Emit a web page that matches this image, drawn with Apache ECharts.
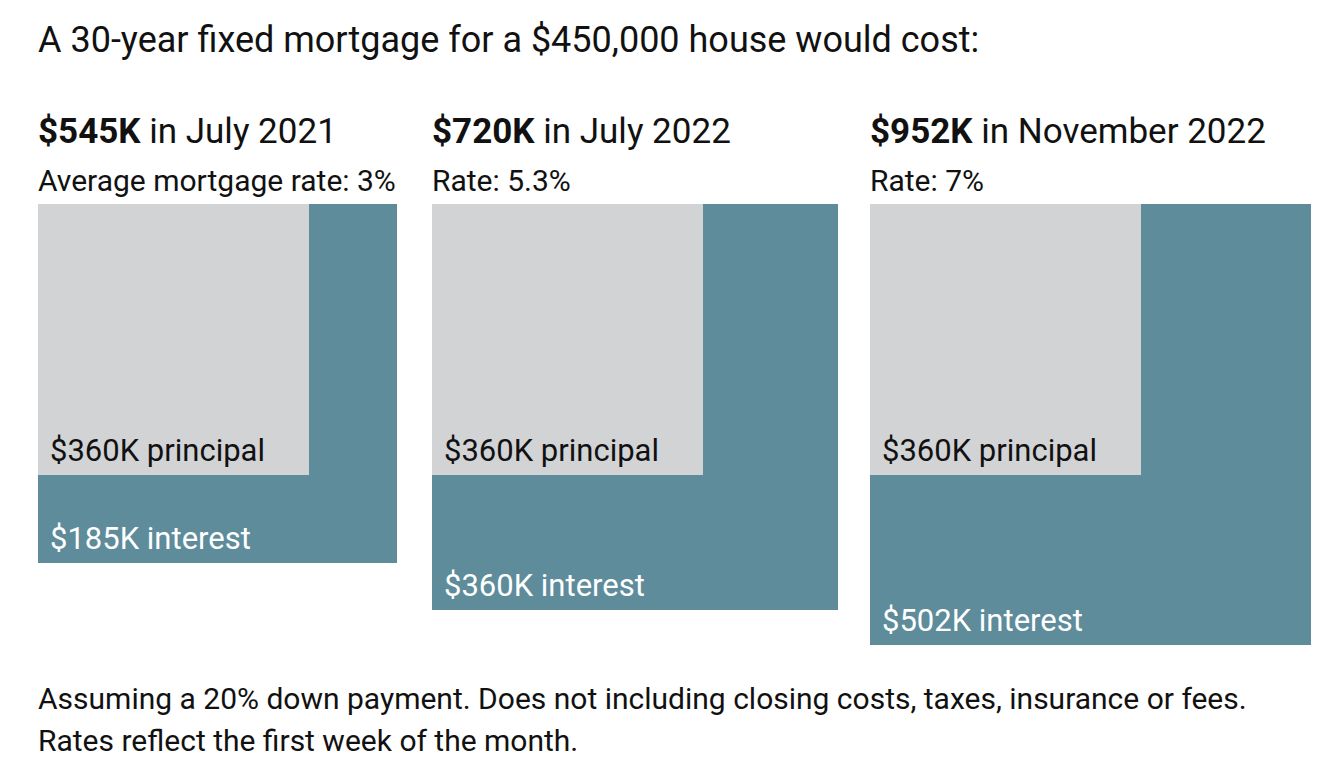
<!DOCTYPE html>
<html>
<head>
<meta charset="utf-8">
<script src="https://cdn.jsdelivr.net/npm/echarts@6/dist/echarts.min.js"></script>
<style>
html,body{margin:0;padding:0;background:#fff;}
#c{width:1338px;height:774px;}
</style>
</head>
<body>
<div id="c"></div>
<script>
// ---- data (thousands of dollars) ----
var totals = [545, 720, 952];
var principals = [360, 360, 360];
var interests = [185, 360, 502];
var months = ['July 2021', 'July 2022', 'November 2022'];
var rateLabels = ['Average mortgage rate: 3%', 'Rate: 5.3%', 'Rate: 7%'];
var titleText = 'A 30-year fixed mortgage for a $450,000 house would cost:';
var noteLines = ['Assuming a 20% down payment. Does not including closing costs, taxes, insurance or fees.',
                 'Rates reflect the first week of the month.'];

// ---- layout ----
var panelLeft = [38, 432, 870];
var panelSide = [359, 406, 441];
var greySide = 271;
var panelTop = 204;
var GREY = '#d2d3d5', TEAL = '#5e8c9b';
var FONT = 'Roboto, "Liberation Sans", sans-serif';

var grids = [], xAxes = [], yAxes = [], series = [], graphics = [];

totals.forEach(function (t, i) {
  var st = Math.sqrt(t), sp = Math.sqrt(principals[i]);
  var W = panelSide[i];
  // axis start chosen so the principal square matches the drawn size
  var m = (sp * W - greySide * st) / (W - greySide);
  grids.push({left: panelLeft[i], top: panelTop, width: W, height: W});
  xAxes.push({type: 'value', gridIndex: i, min: m, max: st, show: false});
  yAxes.push({type: 'value', gridIndex: i, min: m, max: st, inverse: true, show: false});
  series.push({
    type: 'custom',
    xAxisIndex: i, yAxisIndex: i,
    silent: true,
    data: [[totals[i], principals[i], interests[i]]],
    renderItem: function (params, api) {
      var cs = params.coordSys;
      var tot = Math.sqrt(api.value(0));
      var pri = Math.sqrt(api.value(1));
      var tEnd = api.coord([tot, tot]);
      var pEnd = api.coord([pri, pri]);
      var x0 = cs.x, y0 = cs.y;
      return {
        type: 'group',
        children: [
          {type: 'rect', shape: {x: x0, y: y0, width: tEnd[0] - x0, height: tEnd[1] - y0}, style: {fill: TEAL}},
          {type: 'rect', shape: {x: x0, y: y0, width: pEnd[0] - x0, height: pEnd[1] - y0}, style: {fill: GREY}},
          {type: 'text', style: {x: x0 + 12, y: pEnd[1] - 25, text: '$' + api.value(1) + 'K principal',
            fill: '#111', font: '31px ' + FONT, verticalAlign: 'middle', align: 'left'}},
          {type: 'text', style: {x: x0 + 12, y: tEnd[1] - 25, text: '$' + api.value(2) + 'K interest',
            fill: '#fff', font: '31px ' + FONT, verticalAlign: 'middle', align: 'left'}}
        ]
      };
    }
  });
  graphics.push({
    type: 'text', left: panelLeft[i], top: 114,
    style: {
      text: '{b|$' + t + 'K} in ' + months[i],
      rich: {b: {fontWeight: 'bold', fontSize: 35, fontFamily: FONT, fill: '#111'}},
      fontSize: 35, fontFamily: FONT, fill: '#111'
    }
  });
  graphics.push({
    type: 'text', left: panelLeft[i], top: 165,
    style: {text: rateLabels[i], fontSize: 30, fontFamily: FONT, fill: '#111'}
  });
});

graphics.push({type: 'text', left: 38, top: 22, style: {text: titleText, fontSize: 36, fontFamily: FONT, fill: '#111'}});
graphics.push({type: 'text', left: 38, top: 683, style: {text: noteLines[0], fontSize: 30, fontFamily: FONT, fill: '#111'}});
graphics.push({type: 'text', left: 38, top: 725, style: {text: noteLines[1], fontSize: 30, fontFamily: FONT, fill: '#111'}});

var chart = echarts.init(document.getElementById('c'), null, {renderer: 'svg'});
chart.setOption({
  animation: false,
  backgroundColor: '#fff',
  grid: grids, xAxis: xAxes, yAxis: yAxes,
  series: series,
  graphic: graphics
});
</script>
</body>
</html>
